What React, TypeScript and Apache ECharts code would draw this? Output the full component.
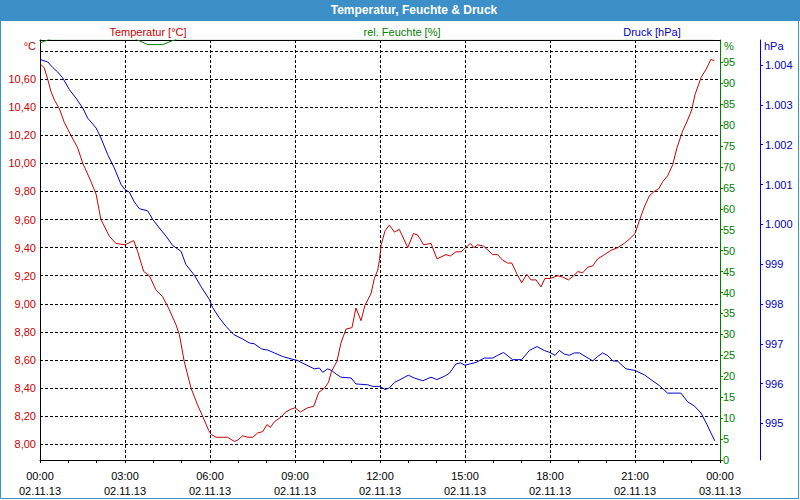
import React, { useEffect, useRef } from "react";
import * as echarts from "echarts";

// x axis tick labels (every 3 hours)
const xTickLabels = [
  "00:00\n02.11.13",
  "03:00\n02.11.13",
  "06:00\n02.11.13",
  "09:00\n02.11.13",
  "12:00\n02.11.13",
  "15:00\n02.11.13",
  "18:00\n02.11.13",
  "21:00\n02.11.13",
  "00:00\n03.11.13",
];

const tempGridTicks = [8.0, 8.2, 8.4, 8.6, 8.8, 9.0, 9.2, 9.4, 9.6, 9.8, 10.0, 10.2, 10.4, 10.6, 10.8];
const tempLabelTicks = [8.0, 8.2, 8.4, 8.6, 8.8, 9.0, 9.2, 9.4, 9.6, 9.8, 10.0, 10.2, 10.4, 10.6];
const humidityTicks = [0, 5, 10, 15, 20, 25, 30, 35, 40, 45, 50, 55, 60, 65, 70, 75, 80, 85, 90, 95];
const pressureTicks = [995, 996, 997, 998, 999, 1000, 1001, 1002, 1003, 1004];

// [hour, °C]
const temperature: [number, number][] = [
  [0, 10.71], [0.15, 10.68], [0.27, 10.6], [0.39, 10.51], [0.51, 10.45], [0.68, 10.39], [0.86, 10.29],
  [1.09, 10.2], [1.33, 10.11], [1.51, 10.0], [1.8, 9.87], [1.98, 9.78], [2.15, 9.6], [2.45, 9.48],
  [2.68, 9.43], [3.0, 9.42], [3.31, 9.45], [3.45, 9.37], [3.66, 9.23], [3.86, 9.2], [4.09, 9.1],
  [4.33, 9.05], [4.56, 8.96], [4.8, 8.85], [4.92, 8.78], [5.09, 8.59], [5.33, 8.4], [5.56, 8.28],
  [5.74, 8.2], [5.95, 8.1], [6.04, 8.07], [6.21, 8.05], [6.45, 8.05], [6.62, 8.05], [6.86, 8.02],
  [6.98, 8.03], [7.15, 8.06], [7.33, 8.05], [7.51, 8.05], [7.68, 8.08], [7.86, 8.09], [8.01, 8.14],
  [8.13, 8.12], [8.27, 8.16], [8.48, 8.19], [8.68, 8.23], [8.86, 8.25], [9.0, 8.26], [9.19, 8.23],
  [9.45, 8.26], [9.66, 8.27], [9.84, 8.37], [10.04, 8.4], [10.18, 8.44], [10.29, 8.52], [10.48, 8.59],
  [10.62, 8.72], [10.8, 8.82], [11.01, 8.83], [11.15, 8.97], [11.33, 8.88], [11.47, 8.99], [11.68, 9.07],
  [11.8, 9.18], [11.92, 9.24], [11.98, 9.31], [12.04, 9.42], [12.18, 9.52], [12.33, 9.56], [12.51, 9.51],
  [12.68, 9.53], [12.98, 9.4], [13.18, 9.5], [13.33, 9.49], [13.54, 9.42], [13.8, 9.43], [14.01, 9.32],
  [14.33, 9.35], [14.48, 9.34], [14.68, 9.37], [14.86, 9.37], [15.19, 9.43], [15.31, 9.4], [15.45, 9.42],
  [15.66, 9.41], [15.98, 9.35], [16.15, 9.35], [16.33, 9.31], [16.51, 9.29], [16.65, 9.29], [16.84, 9.21],
  [17.0, 9.15], [17.18, 9.21], [17.33, 9.17], [17.51, 9.17], [17.68, 9.12], [17.82, 9.18], [18.0, 9.18],
  [18.27, 9.2], [18.45, 9.19], [18.65, 9.17], [18.84, 9.2], [18.98, 9.23], [19.15, 9.22], [19.33, 9.26],
  [19.51, 9.27], [19.68, 9.32], [19.92, 9.35], [20.15, 9.38], [20.39, 9.4], [20.62, 9.43], [20.8, 9.46],
  [21.0, 9.5], [21.15, 9.59], [21.33, 9.69], [21.51, 9.77], [21.68, 9.8], [21.84, 9.82], [21.98, 9.87],
  [22.15, 9.91], [22.33, 9.99], [22.48, 10.11], [22.68, 10.23], [22.84, 10.3], [23.0, 10.38], [23.12, 10.49],
  [23.33, 10.61], [23.51, 10.67], [23.68, 10.74], [23.8, 10.73],
];

// [hour, %]  (values above the axis top are clipped at the plot edge)
const humidity: [number, number][] = [
  [0, 99.6], [0.27, 100.3], [0.39, 100.6], [3.35, 100.6], [3.8, 99.2], [4.33, 99.2], [4.85, 100.6], [23.8, 100.6],
];

// [hour, hPa]
const pressure: [number, number][] = [
  [0, 1004.14], [0.27, 1004.08], [0.45, 1003.94], [0.62, 1003.83], [0.8, 1003.68], [1.04, 1003.38],
  [1.27, 1003.17], [1.51, 1002.92], [1.68, 1002.67], [1.98, 1002.42], [2.15, 1002.17], [2.39, 1001.75],
  [2.62, 1001.42], [2.86, 1001.0], [3.0, 1000.87], [3.15, 1000.81], [3.33, 1000.56], [3.51, 1000.39],
  [3.8, 1000.34], [3.98, 1000.12], [4.21, 999.91], [4.45, 999.7], [4.68, 999.47], [4.98, 999.32],
  [5.15, 998.99], [5.45, 998.72], [5.68, 998.44], [5.98, 998.11], [6.09, 997.91], [6.33, 997.65],
  [6.56, 997.44], [6.84, 997.23], [7.15, 997.12], [7.39, 997.02], [7.56, 997.0], [7.82, 996.87],
  [8.04, 996.84], [8.27, 996.77], [8.56, 996.68], [8.86, 996.62], [9.09, 996.58], [9.39, 996.47],
  [9.68, 996.37], [9.86, 996.39], [9.98, 996.28], [10.15, 996.37], [10.29, 996.33], [10.45, 996.24],
  [10.62, 996.16], [10.98, 996.14], [11.15, 995.99], [11.56, 995.97], [11.74, 995.93], [12.0, 995.93],
  [12.18, 995.85], [12.33, 995.89], [12.51, 996.03], [12.74, 996.11], [13.0, 996.21], [13.21, 996.14],
  [13.51, 996.07], [13.8, 996.16], [14.01, 996.1], [14.27, 996.18], [14.45, 996.26], [14.68, 996.49],
  [14.84, 996.52], [15.0, 996.46], [15.15, 996.49], [15.39, 996.53], [15.68, 996.64], [15.98, 996.64],
  [16.15, 996.71], [16.36, 996.78], [16.68, 996.6], [17.0, 996.6], [17.27, 996.83], [17.54, 996.93],
  [17.8, 996.83], [18.0, 996.78], [18.18, 996.71], [18.33, 996.83], [18.51, 996.74], [18.68, 996.71],
  [18.86, 996.77], [19.04, 996.77], [19.27, 996.67], [19.51, 996.57], [19.68, 996.68], [19.86, 996.77],
  [20.04, 996.7], [20.21, 996.57], [20.39, 996.56], [20.68, 996.37], [21.0, 996.33], [21.33, 996.22],
  [21.56, 996.1], [21.86, 995.95], [22.15, 995.76], [22.39, 995.76], [22.62, 995.76], [22.86, 995.54],
  [23.09, 995.44], [23.33, 995.26], [23.54, 994.97], [23.68, 994.76], [23.82, 994.56],
];

const RED = "#cc0000";
const GREEN = "#008000";
const BLUE = "#0000cc";
const FRAME = "#3d8fc8";
const FONT = "Liberation Sans";

function fmtTemp(v: number) {
  return v.toFixed(2).replace(".", ",");
}
function fmtPressure(v: number) {
  const s = String(Math.round(v));
  return s.length > 3 ? s.slice(0, s.length - 3) + "." + s.slice(-3) : s;
}

export default function App() {
  const ref = useRef<HTMLDivElement>(null);
  useEffect(() => {
    if (!ref.current) return;
    const chart = echarts.init(ref.current, null, { renderer: "svg" });
    const dashed = { color: "#000", width: 1, type: [3, 2] as any };
    chart.setOption({
      animation: false,
      backgroundColor: "#ffffff",
      textStyle: { fontFamily: FONT, fontSize: 11 },
      grid: { left: 40, right: 80, top: 40, bottom: 40, containLabel: false },
      xAxis: [
        {
          type: "value",
          min: 0,
          max: 24,
          interval: 3,
          position: "bottom",
          axisLine: { show: true, onZero: false, lineStyle: { color: "#000", width: 1 } },
          axisTick: { show: true, length: 3, lineStyle: { color: "#000" } },
          minorTick: { show: true, splitNumber: 3, length: 3, lineStyle: { color: "#000" } },
          splitLine: { show: true, showMinLine: false, showMaxLine: false, lineStyle: dashed },
          axisLabel: {
            formatter: (v: number) => xTickLabels[Math.round(v / 3)],
            color: "#000",
            fontFamily: FONT,
            fontSize: 11,
            lineHeight: 15,
            margin: 8,
            showMinLabel: true,
            showMaxLabel: true,
          },
        },
        {
          type: "value",
          min: 0,
          max: 24,
          position: "top",
          axisLine: { show: true, onZero: false, lineStyle: { color: "#000", width: 1 } },
          axisTick: { show: false },
          axisLabel: { show: false },
          splitLine: { show: false },
        },
      ],
      yAxis: [
        {
          type: "value",
          position: "left",
          min: 7.888,
          max: 10.878,
          axisLine: { show: true, onZero: false, lineStyle: { color: "#000", width: 1 } },
          axisTick: { show: false, customValues: tempGridTicks },
          axisLabel: {
            customValues: tempLabelTicks,
            formatter: fmtTemp,
            color: RED,
            fontFamily: FONT,
            fontSize: 11,
            margin: 4,
          },
          splitLine: { show: true, lineStyle: dashed },
        },
        {
          type: "value",
          position: "right",
          min: 0,
          max: 100.3,
          axisLine: { show: true, onZero: false, lineStyle: { color: GREEN, width: 1 } },
          axisTick: { show: true, length: 3, customValues: humidityTicks, lineStyle: { color: GREEN } },
          axisLabel: { customValues: humidityTicks, color: GREEN, fontFamily: FONT, fontSize: 11, margin: 3 },
          splitLine: { show: false },
        },
        {
          type: "value",
          position: "right",
          offset: 40,
          min: 994.08,
          max: 1004.63,
          axisLine: { show: true, onZero: false, lineStyle: { color: BLUE, width: 1 } },
          axisTick: { show: true, length: 3, customValues: pressureTicks, lineStyle: { color: BLUE } },
          axisLabel: {
            customValues: pressureTicks,
            formatter: fmtPressure,
            color: BLUE,
            fontFamily: FONT,
            fontSize: 11,
            margin: 5,
          },
          splitLine: { show: false },
        },
      ],
      series: [
        {
          name: "rel. Feuchte [%]",
          type: "line",
          xAxisIndex: 0,
          yAxisIndex: 1,
          data: humidity,
          showSymbol: false,
          clip: true,
          lineStyle: { color: GREEN, width: 1 },
          itemStyle: { color: GREEN },
        },
        {
          name: "Druck [hPa]",
          type: "line",
          xAxisIndex: 0,
          yAxisIndex: 2,
          data: pressure,
          showSymbol: false,
          clip: true,
          lineStyle: { color: BLUE, width: 1 },
          itemStyle: { color: BLUE },
        },
        {
          name: "Temperatur [°C]",
          type: "line",
          xAxisIndex: 0,
          yAxisIndex: 0,
          data: temperature,
          showSymbol: false,
          clip: true,
          lineStyle: { color: RED, width: 1 },
          itemStyle: { color: RED },
        },
      ],
      graphic: [
        {
          type: "rect",
          silent: true,
          z: 10,
          shape: { x: 0, y: 0, width: 800, height: 21 },
          style: { fill: FRAME },
        },
        {
          type: "rect",
          silent: true,
          z: 10,
          shape: { x: 0.5, y: 0.5, width: 798, height: 498 },
          style: { fill: "none", stroke: FRAME, lineWidth: 1 },
        },
        {
          type: "text",
          silent: true,
          z: 11,
          x: 414,
          y: 10,
          style: {
            text: "Temperatur, Feuchte & Druck",
            fill: "#ffffff",
            fontFamily: FONT,
            fontSize: 12,
            fontWeight: "bold",
            align: "center",
            verticalAlign: "middle",
          },
        },
        {
          type: "text",
          silent: true,
          x: 148,
          y: 32,
          style: { text: "Temperatur [°C]", fill: RED, fontFamily: FONT, fontSize: 11, align: "center", verticalAlign: "middle" },
        },
        {
          type: "text",
          silent: true,
          x: 402,
          y: 32,
          style: { text: "rel. Feuchte [%]", fill: GREEN, fontFamily: FONT, fontSize: 11, align: "center", verticalAlign: "middle" },
        },
        {
          type: "text",
          silent: true,
          x: 652,
          y: 32,
          style: { text: "Druck [hPa]", fill: BLUE, fontFamily: FONT, fontSize: 11, align: "center", verticalAlign: "middle" },
        },
        {
          type: "text",
          silent: true,
          x: 36,
          y: 46,
          style: { text: "°C", fill: RED, fontFamily: FONT, fontSize: 11, align: "right", verticalAlign: "middle" },
        },
        {
          type: "text",
          silent: true,
          x: 724,
          y: 46,
          style: { text: "%", fill: GREEN, fontFamily: FONT, fontSize: 11, align: "left", verticalAlign: "middle" },
        },
        {
          type: "text",
          silent: true,
          x: 764,
          y: 46,
          style: { text: "hPa", fill: BLUE, fontFamily: FONT, fontSize: 11, align: "left", verticalAlign: "middle" },
        },
      ],
    });
    return () => chart.dispose();
  }, []);
  return (
    <div
      ref={ref}
      style={{ position: "absolute", left: 0, top: 0, width: 800, height: 500 }}
    />
  );
}
